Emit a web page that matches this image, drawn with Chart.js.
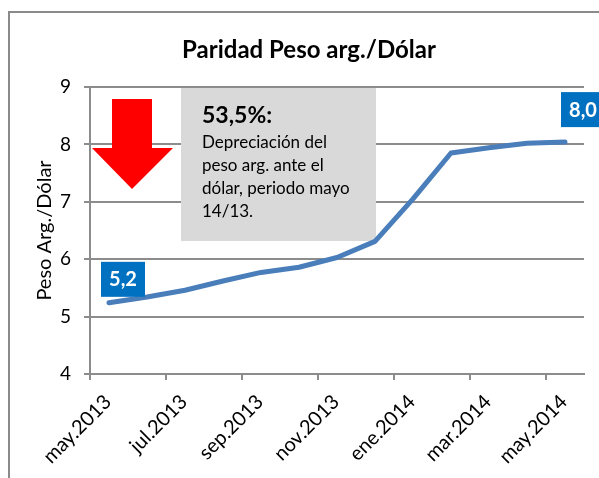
<!DOCTYPE html>
<html><head><meta charset="utf-8">
<script src="https://cdn.jsdelivr.net/npm/chart.js@4"></script>
<style>html,body{margin:0;padding:0;background:#fff}#wrap{width:599px;height:478px;position:relative}</style>
</head><body><div id="wrap"><canvas id="c"></canvas></div>
<script>
// ---- data ----
const months = ['may.2013','jun.2013','jul.2013','ago.2013','sep.2013','oct.2013','nov.2013','dic.2013','ene.2014','feb.2014','mar.2014','abr.2014','may.2014'];
const pesoPorDolar = [5.24,5.34,5.46,5.62,5.77,5.86,6.03,6.31,7.05,7.85,7.94,8.02,8.04];
const xTickLabels = ['may.2013','jul.2013','sep.2013','nov.2013','ene.2014','mar.2014','may.2014'];
const pointLabels = ['5,2','','','','','','','','','','','','8,0'];
const chartTitle = 'Paridad Peso arg./Dólar';
const yAxisTitle = 'Peso Arg./Dólar';
const noteTitle = '53,5%:';
const noteLines = ['Depreciación del','peso arg. ante el','dólar, periodo mayo','14/13.'];

const GRID = '#8c8c8c';
const FONT = 'Lato, "Open Sans", sans-serif';

const decorations = {
  id: 'decorations',
  beforeDraw(chart) {
    const ctx = chart.ctx;
    ctx.save();
    ctx.fillStyle = '#fff';
    ctx.fillRect(0, 0, chart.width, chart.height);
    ctx.strokeStyle = '#8a8a8a';
    ctx.lineWidth = 2;
    ctx.strokeRect(9, 12, chart.width + 20, chart.height + 20);
    ctx.restore();
  },
  beforeDatasetsDraw(chart) {
    const ctx = chart.ctx, a = chart.chartArea;
    ctx.save();
    // note box
    ctx.fillStyle = '#d9d9d9';
    ctx.fillRect(a.left + 91, a.top + 1, 195, 153);
    // red arrow
    const L = a.left;
    ctx.fillStyle = '#ff0000';
    ctx.beginPath();
    ctx.moveTo(L + 22, a.top + 12);
    ctx.lineTo(L + 62, a.top + 12);
    ctx.lineTo(L + 62, a.top + 61);
    ctx.lineTo(L + 83, a.top + 61);
    ctx.lineTo(L + 42, a.top + 102);
    ctx.lineTo(L + 2, a.top + 61);
    ctx.lineTo(L + 22, a.top + 61);
    ctx.closePath();
    ctx.fill();
    // note text
    ctx.fillStyle = '#000';
    ctx.textAlign = 'left';
    ctx.textBaseline = 'alphabetic';
    ctx.font = 'bold 23px ' + FONT;
    ctx.fillText(noteTitle, a.left + 112, a.top + 36);
    ctx.font = '17px ' + FONT;
    noteLines.forEach((t, i) => ctx.fillText(t, a.left + 112, a.top + 61 + i * 23));
    ctx.restore();
  },
  afterDatasetsDraw(chart) {
    const ctx = chart.ctx;
    const meta = chart.getDatasetMeta(0);
    ctx.save();
    ctx.font = 'bold 20px ' + FONT;
    ctx.textAlign = 'center';
    ctx.textBaseline = 'middle';
    pointLabels.forEach((lab, i) => {
      if (!lab) return;
      const p = meta.data[i];
      const last = i === pointLabels.length - 1;
      const bx = last ? p.x - 4 : p.x - 8;
      const by = last ? p.y - 50 : p.y - 41;
      ctx.fillStyle = '#0070c0';
      ctx.fillRect(bx, by, 44, 35);
      ctx.fillStyle = '#fff';
      ctx.fillText(lab, bx + 22, by + 18);
    });
    // title
    ctx.fillStyle = '#000';
    ctx.font = 'bold 24px ' + FONT;
    ctx.textBaseline = 'alphabetic';
    ctx.fillText(chartTitle, 309, 58);
    ctx.restore();
  }
};

new Chart(document.getElementById('c'), {
  type: 'line',
  data: {
    datasets: [{
      label: 'Peso arg./Dólar',
      data: pesoPorDolar.map((v, i) => ({x: i + 0.5, y: v, m: months[i]})),
      borderColor: '#4a7ebb',
      borderWidth: 5,
      borderCapStyle: 'round',
      borderJoinStyle: 'round',
      pointRadius: 0,
      tension: 0,
      fill: false
    }]
  },
  options: {
    responsive: true,
    maintainAspectRatio: false,
    animation: false,
    layout: {padding: {top: 87, right: 15, bottom: 0, left: 0}},
    plugins: {legend: {display: false}, tooltip: {enabled: false}, title: {display: false}},
    scales: {
      x: {
        type: 'linear',
        min: 0, max: 13,
        afterFit(s) { s.height = 104; s.paddingLeft = 0; s.paddingRight = 0; },
        ticks: {
          stepSize: 2, includeBounds: false, autoSkip: false,
          maxRotation: 45, minRotation: 45,
          color: '#000', font: {family: FONT, size: 20},
          padding: 10, labelOffset: 18,
          callback: (v) => xTickLabels[v / 2] || ''
        },
        grid: {drawOnChartArea: false, drawTicks: true, tickLength: 6, color: GRID, lineWidth: 2},
        border: {display: true, color: GRID, width: 2}
      },
      y: {
        min: 4, max: 9,
        afterFit(s) { s.width = 90; s.paddingTop = 0; s.paddingBottom = 0; },
        ticks: {stepSize: 1, color: '#000', font: {family: FONT, size: 19}, padding: 13},
        grid: {color: GRID, lineWidth: 2, drawTicks: true, tickLength: 6},
        border: {display: true, color: GRID, width: 2},
        title: {display: true, text: yAxisTitle, color: '#000', font: {family: FONT, size: 20}, padding: {top: 33, bottom: 0}}
      }
    }
  },
  plugins: [decorations]
});
</script>
</body></html>
